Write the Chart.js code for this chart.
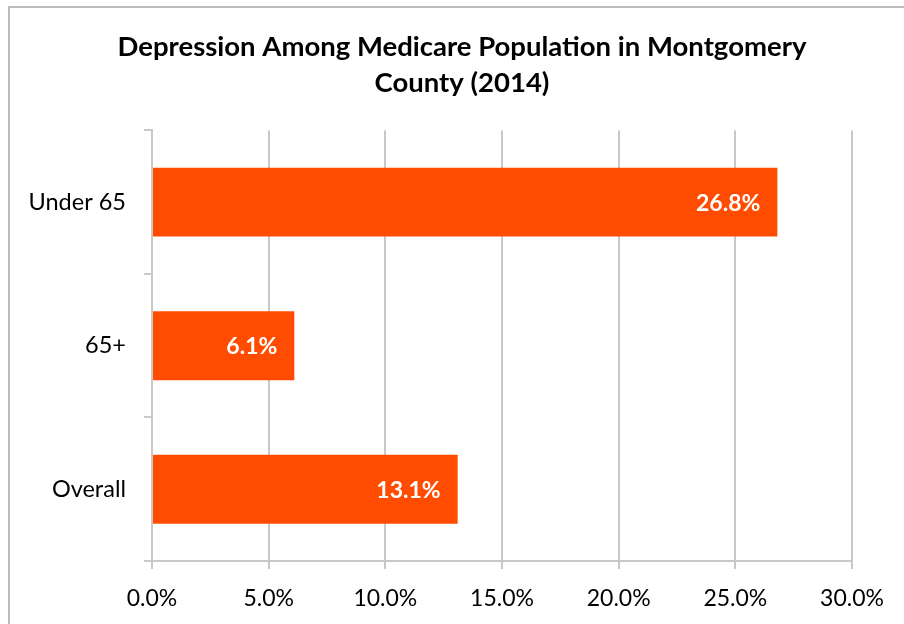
<!DOCTYPE html>
<html>
<head>
<meta charset="utf-8">
<script src="https://cdn.jsdelivr.net/npm/chart.js@4/dist/chart.umd.min.js"></script>
<style>
    html, body { margin: 0; padding: 0; background: #fff; }
    #wrap { position: relative; width: 904px; height: 624px; overflow: hidden; }
    #frame { position: absolute; left: 8px; top: 6px; width: 1000px; height: 1000px; border-left: 2px solid #bbb; border-top: 2px solid #bbb; }
    #chart { position: absolute; left: 0; top: 0; }
</style>
</head>
<body>
<div id="wrap">
    <div id="frame"></div>
    <canvas id="chart" width="904" height="624"></canvas>
</div>
<script>
// ===== Depression among Medicare population, Montgomery County 2014 =====

var categories = ['Under 65', '65+', 'Overall'];
var rates = [26.8, 6.1, 13.1];
var titleLines = ['Depression Among Medicare Population in Montgomery', 'County (2014)'];
var xTicks = { min: 0, max: 30, step: 5 };

(function() {
    'use strict';

    var FONT = 'Lato, "Open Sans", sans-serif';
    var BAR = '#FF4C00';
    var GRID = '#c8c8c8';

    function pct(v) { return Number(v).toFixed(1) + '%'; }

    // white value labels drawn inside the end of each bar
    var barLabels = {
        id: 'barLabels',
        afterDatasetsDraw: function(chart) {
            var ctx = chart.ctx;
            var meta = chart.getDatasetMeta(0);
            ctx.save();
            ctx.fillStyle = '#fff';
            ctx.font = 'bold 23px ' + FONT;
            ctx.textAlign = 'right';
            ctx.textBaseline = 'middle';
            for (var i = 0; i < meta.data.length; i++) {
                var bar = meta.data[i];
                ctx.fillText(pct(rates[i]), bar.x - 17, bar.y + 1);
            }
            ctx.restore();
        }
    };

    new Chart(document.getElementById('chart'), {
        type: 'bar',
        data: {
            labels: categories,
            datasets: [{ data: rates, backgroundColor: BAR, borderWidth: 0, barPercentage: 1, categoryPercentage: 0.48 }]
        },
        plugins: [barLabels],
        options: {
            indexAxis: 'y',
            responsive: false,
            animation: false,
            // uneven padding moves the title centre right; x scale keeps the plot edge
            layout: { padding: { left: 20, right: 0, top: 0, bottom: 0 } },
            plugins: {
                legend: { display: false },
                tooltip: { enabled: false },
                title: {
                    display: true,
                    text: titleLines,
                    color: '#000',
                    font: { family: FONT, size: 27.5, weight: 'bold', lineHeight: 1.28 },
                    padding: { top: 30, bottom: 30 }
                }
            },
            scales: {
                x: {
                    min: xTicks.min, max: xTicks.max,
                    afterFit: function(s) { s.height = 63; s.paddingRight = 52; },
                    ticks: { stepSize: xTicks.step, color: '#000', padding: 16, font: { family: FONT, size: 23 }, callback: function(v) { return pct(v); } },
                    grid: { color: GRID, lineWidth: 2, tickLength: 8, drawTicks: true },
                    border: { color: GRID, width: 2 }
                },
                y: {
                    afterFit: function(s) { s.width = 132; },
                    ticks: { color: '#000', padding: 18, font: { family: FONT, size: 23.5 } },
                    grid: { color: GRID, lineWidth: 2, offset: true, drawOnChartArea: false, tickLength: 8 },
                    border: { color: GRID, width: 2 }
                }
            }
        }
    });
})();
</script>
</body>
</html>
